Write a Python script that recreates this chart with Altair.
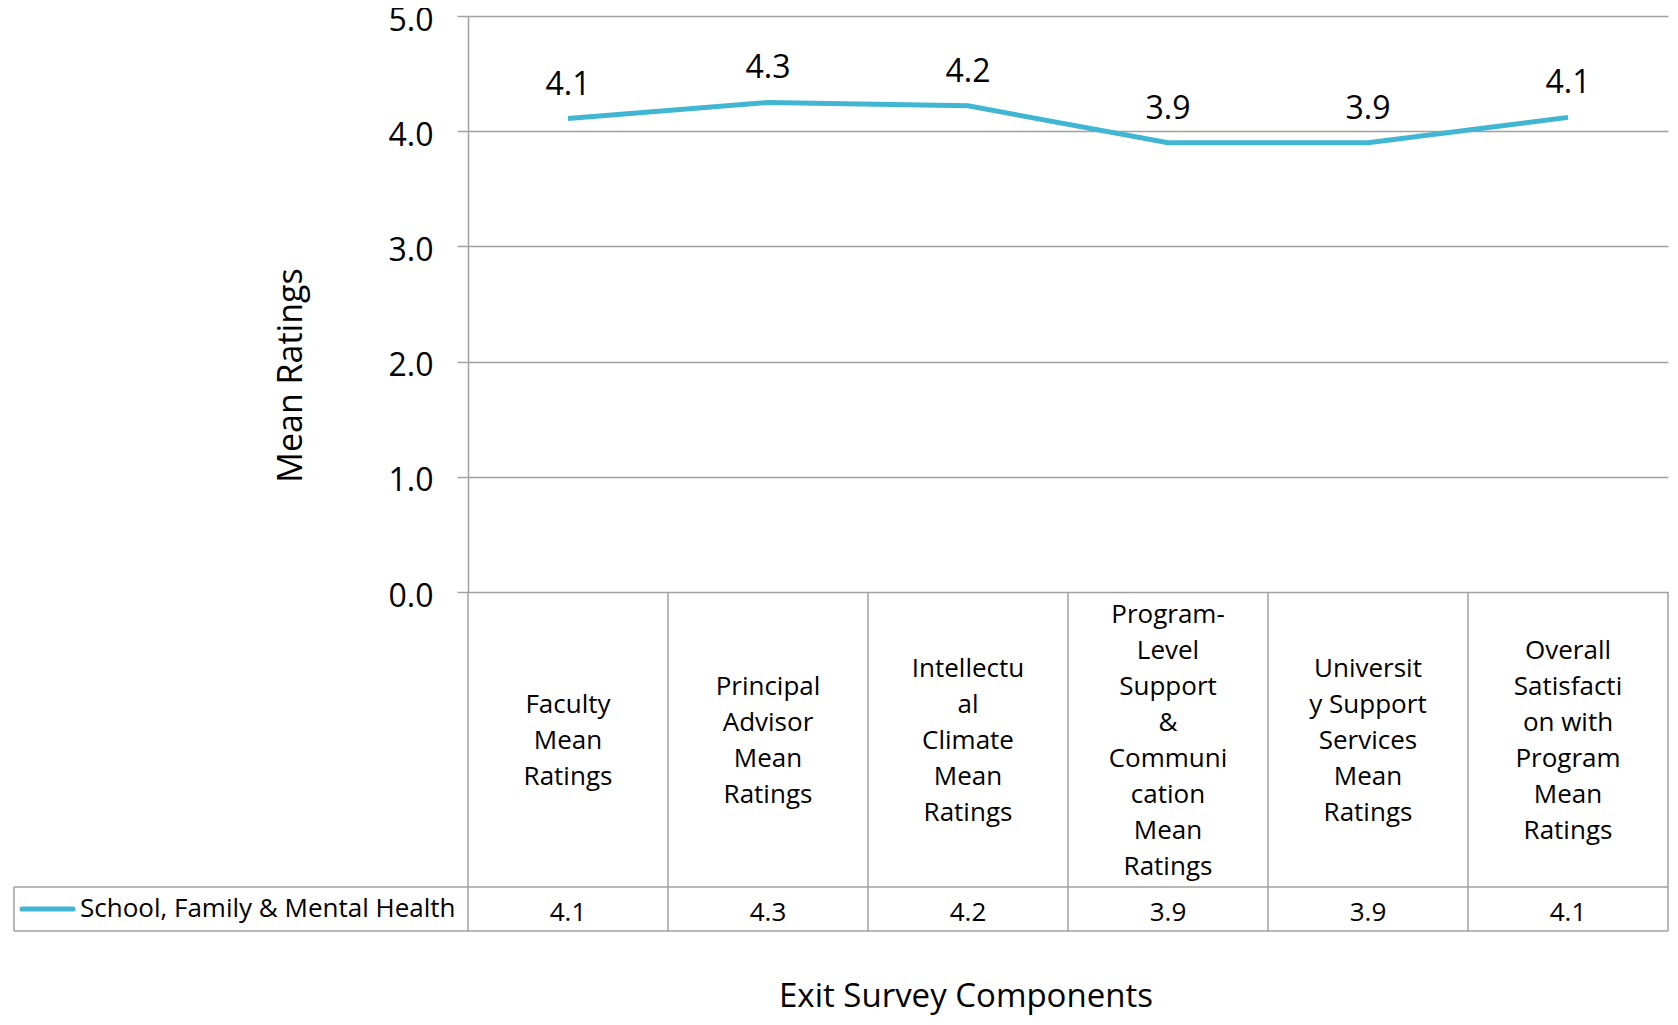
import altair as alt
import pandas as pd

# ---- data ----
categories = [
    "Faculty Mean Ratings",
    "Principal Advisor Mean Ratings",
    "Intellectual Climate Mean Ratings",
    "Program-Level Support & Communication Mean Ratings",
    "University Support Services Mean Ratings",
    "Overall Satisfaction with Program Mean Ratings",
]
category_lines = [
    ["Faculty", "Mean", "Ratings"],
    ["Principal", "Advisor", "Mean", "Ratings"],
    ["Intellectu", "al", "Climate", "Mean", "Ratings"],
    ["Program-", "Level", "Support", "&", "Communi", "cation", "Mean", "Ratings"],
    ["Universit", "y Support", "Services", "Mean", "Ratings"],
    ["Overall", "Satisfacti", "on with", "Program", "Mean", "Ratings"],
]
values = [4.11, 4.25, 4.22, 3.90, 3.90, 4.12]
series_name = "School, Family & Mental Health"
y_ticks = [0, 1, 2, 3, 4, 5]
x_title = "Exit Survey Components"
y_title = "Mean Ratings"

df = pd.DataFrame({
    "cat": categories,
    "lines": ["\n".join(l) for l in category_lines],
    "value": values,
})
one = pd.DataFrame({"series": [series_name], "xt": [x_title]})

FONT = "Open Sans"
LINE = "#41B6D2"
GRID = "#A0A0A0"
W, H = 1200, 576
BAND = W / len(categories)
TABLE_ROW_TOP = 871
TABLE_BOTTOM = 915
LEFT = -454
LH = 36
CAT_CENTER = 725

xs = alt.Scale(domain=categories, paddingInner=0, paddingOuter=0)
ys = alt.Scale(domain=[0, 5], nice=False)

base = alt.Chart(df)

line = base.mark_line(color=LINE, strokeWidth=5).encode(
    x=alt.X("cat:N", scale=xs, axis=None, sort=categories),
    y=alt.Y(
        "value:Q",
        scale=ys,
        axis=alt.Axis(
            values=y_ticks,
            format=".1f",
            grid=True,
            gridColor=GRID,
            gridWidth=1.5,
            domainColor=GRID,
            domainWidth=1.5,
            tickColor=GRID,
            tickWidth=1.5,
            tickSize=11,
            labelFontSize=32,
            labelFont=FONT,
            labelColor="#000000",
            labelPadding=24,
            labelOffset=4,
            title=y_title,
            titleFont=FONT,
            titleFontSize=34,
            titleFontWeight="normal",
            titleColor="#000000",
            titleAngle=270,
            titleX=-177,
            titleY=359,
            titleAlign="center",
            titleBaseline="middle",
        ),
    ),
)

point_labels = base.mark_text(font=FONT, fontSize=32, dy=-34, baseline="middle", color="#000000").encode(
    x=alt.X("cat:N", scale=xs, sort=categories),
    y=alt.Y("value:Q", scale=ys),
    text=alt.Text("value:Q", format=".1f"),
)

cat_labels = (
    base.transform_calculate(
        ypix=f"{CAT_CENTER} - (length(split(datum.lines, '\\n')) - 1) * {LH / 2}"
    )
    .mark_text(
        font=FONT, fontSize=26, lineHeight=LH, lineBreak="\n", baseline="middle", align="center", color="#000000"
    )
    .encode(
        x=alt.X("cat:N", scale=xs, sort=categories),
        y=alt.Y("ypix:Q", scale=None),
        text=alt.Text("lines:N"),
    )
)

row_values = base.mark_text(font=FONT, fontSize=26, baseline="middle", color="#000000").encode(
    x=alt.X("cat:N", scale=xs, sort=categories),
    y=alt.value(897),
    text=alt.Text("value:Q", format=".1f"),
)

col_rules = base.mark_rule(color=GRID, strokeWidth=1.5, xOffset=-BAND / 2).encode(
    x=alt.X("cat:N", scale=xs, sort=categories),
    y=alt.value(H),
    y2=alt.value(TABLE_BOTTOM),
)

single = alt.Chart(one)
right_rule = single.mark_rule(color=GRID, strokeWidth=1.5).encode(
    x=alt.value(W), y=alt.value(H), y2=alt.value(TABLE_BOTTOM)
)
left_rule = single.mark_rule(color=GRID, strokeWidth=1.5).encode(
    x=alt.value(LEFT), y=alt.value(TABLE_ROW_TOP), y2=alt.value(TABLE_BOTTOM)
)
row_top = single.mark_rule(color=GRID, strokeWidth=1.5).encode(
    x=alt.value(LEFT), x2=alt.value(W), y=alt.value(TABLE_ROW_TOP)
)
row_bottom = single.mark_rule(color=GRID, strokeWidth=1.5).encode(
    x=alt.value(LEFT), x2=alt.value(W), y=alt.value(TABLE_BOTTOM)
)
swatch = single.mark_rule(color=LINE, strokeWidth=5, strokeCap="round").encode(
    x=alt.value(-446), x2=alt.value(-395), y=alt.value(893)
)
legend_text = single.mark_text(
    font=FONT, fontSize=26, align="left", baseline="middle", color="#000000"
).encode(x=alt.value(-388), y=alt.value(893), text=alt.Text("series:N"))

x_title_text = single.mark_text(
    font=FONT, fontSize=33, align="center", baseline="middle", color="#000000"
).encode(x=alt.value(498), y=alt.value(981), text=alt.Text("xt:N"))

chart = (
    alt.layer(
        line, point_labels, cat_labels, row_values, col_rules,
        right_rule, left_rule, row_top, row_bottom, swatch, legend_text, x_title_text,
    )
    .properties(
        width=W,
        height=H,
        autosize=alt.AutoSizeParams(type="none"),
        padding={"left": 460, "top": 8, "right": 2, "bottom": 424},
    )
    .configure_view(stroke=None)
)

chart.save("out.html", embed_options={"renderer": "svg", "actions": False})
